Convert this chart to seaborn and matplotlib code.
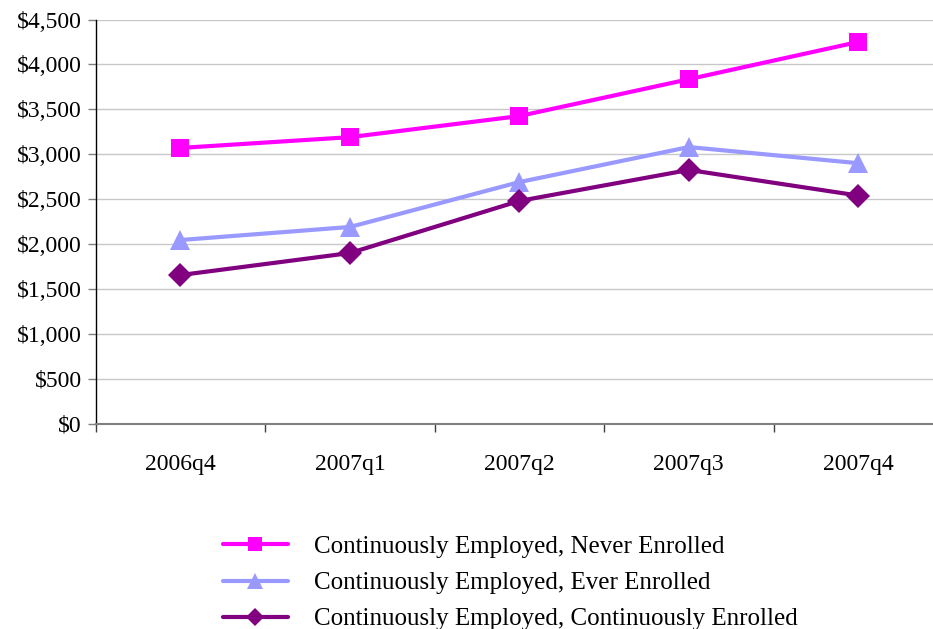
import matplotlib
matplotlib.use("Agg")
import matplotlib.pyplot as plt
import seaborn as sns
import pandas as pd
from matplotlib.ticker import FuncFormatter, FixedLocator

quarters = ["2006q4", "2007q1", "2007q2", "2007q3", "2007q4"]
never_enrolled = [3070, 3190, 3425, 3835, 4250]
ever_enrolled = [2045, 2190, 2690, 3080, 2900]
cont_enrolled = [1655, 1900, 2480, 2825, 2540]
series_names = ["Continuously Employed, Never Enrolled",
                "Continuously Employed, Ever Enrolled",
                "Continuously Employed, Continuously Enrolled"]

sns.set_theme(style="white")
plt.rcParams['font.family'] = ['Liberation Serif', 'DejaVu Serif']
plt.rcParams['text.color'] = 'black'
plt.rcParams['xtick.color'] = 'black'
plt.rcParams['ytick.color'] = 'black'

rows = []
for name, vals in zip(series_names, [never_enrolled, ever_enrolled, cont_enrolled]):
    for q, v in zip(quarters, vals):
        rows.append({"quarter": q, "value": v, "series": name})
df = pd.DataFrame(rows)

fig = plt.figure(figsize=(9.33, 6.29), dpi=100)
ax = fig.add_axes([95.7/933, 1 - 423.7/629, (943 - 95.7)/933, (423.7 - 19.5)/629])

colors = ["#FF00FF", "#9999FF", "#800080"]
markers = ["s", "^", "D"]
msizes = [13, 15, 12]
for name, c, m, ms in zip(series_names, colors, markers, msizes):
    sub = df[df.series == name]
    sns.lineplot(data=sub, x="quarter", y="value", ax=ax, color=c, marker=m,
                 markersize=ms, markeredgewidth=0, linewidth=3, label=name,
                 sort=False)

ax.set_ylim(0, 4500)
ax.set_xlim(-0.5, 4.5)
ax.yaxis.set_major_locator(FixedLocator(range(0, 4501, 500)))
ax.yaxis.set_major_formatter(FuncFormatter(lambda v, p: f"${int(v):,}"))
ax.grid(axis="y", color="#C8C8C8", linewidth=1)
ax.set_xlabel("")
ax.set_ylabel("")
ax.set_xticks(range(len(quarters)))
ax.set_xticklabels(quarters)
ax.set_xticks([i - 0.5 for i in range(len(quarters) + 1)], minor=True)
ax.tick_params(axis="x", which="major", length=0, pad=22, labelsize=17, labelcolor="black")
ax.tick_params(axis="x", which="minor", length=6, width=1, color="#404040", bottom=True, direction="out")
ax.tick_params(axis="y", length=6, width=1, color="#808080", left=True, labelsize=17, pad=4, labelcolor="black")
for s in ["top", "right"]:
    ax.spines[s].set_visible(False)
ax.spines["left"].set_color("black")
ax.spines["left"].set_linewidth(1)
ax.spines["bottom"].set_color("#808080")
ax.spines["bottom"].set_linewidth(1.5)

handles, labels = ax.get_legend_handles_labels()
ax.get_legend().remove()
fig.legend(handles, labels, loc="center left", bbox_to_anchor=(200/933, 1 - 583/629),
           frameon=False, fontsize=18, handlelength=2.6, handletextpad=1.05,
           labelspacing=0.55, markerscale=0.8)

fig.savefig("out.png", dpi=100)
